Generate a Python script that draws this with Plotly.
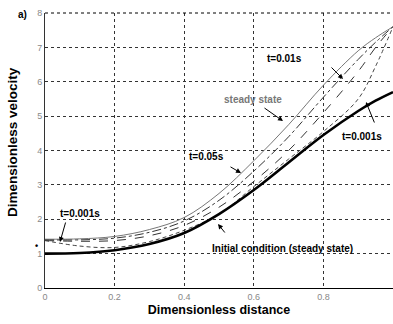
import plotly.graph_objects as go

# Data
x = [0, 0.1, 0.2, 0.3, 0.4, 0.5, 0.6, 0.7, 0.8, 0.9, 0.95, 1.0]
initial = [1.0, 1.02, 1.1, 1.28, 1.6, 2.15, 2.85, 3.65, 4.45, 5.15, 5.45, 5.7]
steady = [1.42, 1.43, 1.5, 1.7, 2.05, 2.75, 3.7, 4.75, 5.9, 6.9, 7.28, 7.6]
t005 = [1.4, 1.4, 1.45, 1.62, 1.95, 2.55, 3.4, 4.4, 5.55, 6.65, 7.15, 7.6]
t001 = [1.38, 1.36, 1.38, 1.52, 1.82, 2.35, 3.1, 4.0, 5.1, 6.3, 7.0, 7.6]
t0001 = [1.38, 1.22, 1.18, 1.35, 1.68, 2.15, 2.95, 3.75, 4.55, 5.5, 6.45, 7.6]

x_ticks = [0, 0.2, 0.4, 0.6, 0.8]
x_labels = ["0", "0.2", "0.4", "0.6", "0.8"]
y_ticks = [0, 1, 2, 3, 4, 5, 6, 7, 8]

FONT = "Arial, 'Liberation Sans', sans-serif"

fig = go.Figure()
fig.add_trace(go.Scatter(x=x, y=steady, mode="lines", line=dict(color="#777", width=1, shape="spline")))
fig.add_trace(go.Scatter(x=x, y=t005, mode="lines", line=dict(color="#333", width=1, dash="dashdot", shape="spline")))
fig.add_trace(go.Scatter(x=x, y=t001, mode="lines", line=dict(color="#333", width=1, dash="dash", shape="spline")))
fig.add_trace(go.Scatter(x=x, y=t0001, mode="lines", line=dict(color="#444", width=1, dash="4px,3px", shape="spline")))
fig.add_trace(go.Scatter(x=x, y=initial, mode="lines", line=dict(color="black", width=2.6, shape="spline")))

def px2x(px):
    return (px - 45) / 348.0

def py2y(py):
    return (288 - py) / 34.375

annots = []
def label(text, px, py, size=10, color="black", bold=True, angle=0, paper=False):
    t = "<b>%s</b>" % text if bold else text
    if paper:
        xx, yy, xr, yr = (px - 45) / 348.0, (288 - py) / 275.0, "paper", "paper"
    else:
        xx, yy, xr, yr = px2x(px), py2y(py), "x", "y"
    annots.append(dict(x=xx, y=yy, xref=xr, yref=yr, text=t, showarrow=False,
                       textangle=angle,
                       font=dict(family=FONT, size=size, color=color), xanchor="center", yanchor="middle"))

def arrow(hx, hy, tx, ty):
    annots.append(dict(x=px2x(hx), y=py2y(hy), xref="x", yref="y", ax=tx - hx, ay=ty - hy,
                       axref="pixel", ayref="pixel", text="", showarrow=True, arrowhead=2,
                       arrowsize=1, arrowwidth=1, arrowcolor="black"))

label("t=0.01s", 284, 58)
label("steady state", 253, 99, color="#777")
label("t=0.001s", 362, 136)
label("t=0.05s", 206, 156)
label("t=0.001s", 80, 213)
label("Initial condition (steady state)", 282, 248)
label("a)", 22, 14, paper=True)
label("•", 36, 246, size=9, paper=True)
label("Dimensionless velocity", 12, 142, size=13.5, angle=-90, paper=True)

arrow(343, 79, 330, 66)
arrow(283, 121, 263, 107)
arrow(366, 102, 375, 124)
arrow(241, 173, 229, 166)
arrow(60, 242, 66, 221)
arrow(218, 224, 226, 234)

fig.update_layout(
    width=393, height=324,
    margin=dict(l=45, r=0, t=13, b=36),
    paper_bgcolor="white", plot_bgcolor="white",
    showlegend=False,
    annotations=annots,
    font=dict(family=FONT, color="black"),
)

fig.update_xaxes(range=[0, 1], tickvals=x_ticks, ticktext=x_labels,
                 showgrid=True, gridcolor="#333", griddash="dot", gridwidth=1,
                 showline=True, linecolor="black", linewidth=1, mirror=False,
                 zeroline=False, ticks="", tickfont=dict(size=9, color="#888", family=FONT),
                 title=dict(text="<b>Dimensionless distance</b>", font=dict(size=12.5, color="black", family=FONT), standoff=4))
fig.update_yaxes(range=[0, 8], tickvals=y_ticks,
                 showgrid=True, gridcolor="#333", griddash="dot", gridwidth=1,
                 showline=True, linecolor="#333", linewidth=1, mirror=False,
                 zeroline=False, ticks="", tickfont=dict(size=9, color="#888", family=FONT))
# top border
fig.add_shape(type="line", xref="paper", yref="paper", x0=0, x1=1, y0=1, y1=1, line=dict(color="black", width=1, dash="dot"))

fig.write_html("out.html")
